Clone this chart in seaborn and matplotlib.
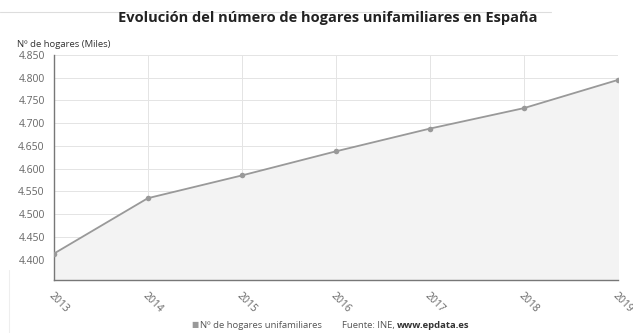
import matplotlib.pyplot as plt
import seaborn as sns
import pandas as pd
from matplotlib.ticker import FuncFormatter

years = [2013, 2014, 2015, 2016, 2017, 2018, 2019]
hogares = [4.413, 4.535, 4.585, 4.638, 4.688, 4.733, 4.795]
yticks = [4.40, 4.45, 4.50, 4.55, 4.60, 4.65, 4.70, 4.75, 4.80, 4.85]

df = pd.DataFrame({'year': years, 'hogares': hogares})

sns.set_style('white')
plt.rcParams['font.family'] = ['Open Sans', 'DejaVu Sans']

fig = plt.figure(figsize=(6.33, 3.33), dpi=100)
ax = fig.add_axes([0.085, 0.159, 0.891, 0.676])

ax.fill_between(df['year'], df['hogares'], 4.355, color='#f3f3f3', zorder=1)
sns.lineplot(data=df, x='year', y='hogares', ax=ax, color='#999999', lw=1.3,
             marker='o', markersize=4, markeredgewidth=0, zorder=3)

ax.set_xlim(2013, 2019)
ax.set_ylim(4.355, 4.85)
ax.set_xticks(years)
ax.set_yticks(yticks)
ax.yaxis.set_major_formatter(FuncFormatter(lambda v, p: f'{v:.3f}'))
ax.set_xticklabels([str(y) for y in years], rotation=-45, ha='left', va='top',
                   rotation_mode='anchor', fontsize=7.5, color='#666666')
ax.tick_params(axis='y', labelsize=7.5, colors='#666666', length=3, width=0.8)
ax.tick_params(axis='x', length=4, width=0.8, colors='#666666')
ax.grid(True, color='#e4e4e4', lw=0.7, zorder=0)
ax.set_axisbelow(True)
ax.set_xlabel('')
ax.set_ylabel('')
for s in ['top', 'right']:
    ax.spines[s].set_visible(False)
for s in ['left', 'bottom']:
    ax.spines[s].set_color('#777777')
    ax.spines[s].set_linewidth(1.0)

fig.text(0.517, 0.945, 'Evolución del número de hogares unifamiliares en España',
         ha='center', va='center', fontsize=10.5, fontweight='bold', color='#222222')
fig.text(0.027, 0.865, 'Nº de hogares (Miles)', ha='left', va='center',
         fontsize=6.8, color='#333333')

# footer legend
fy = 0.024
fig.text(0.302, fy, '■', ha='left', va='center', fontsize=5.5, color='#999999')
fig.text(0.316, fy, 'Nº de hogares unifamiliares', ha='left', va='center',
         fontsize=6.8, color='#555555')
src = fig.text(0.540, fy, 'Fuente: INE, ', ha='left', va='center', fontsize=6.8,
               color='#555555')
fig.canvas.draw()
bb = src.get_window_extent().transformed(fig.transFigure.inverted())
fig.text(bb.x1, fy, 'www.epdata.es', ha='left', va='center', fontsize=6.8,
         fontweight='bold', color='#333333')

fig.add_artist(plt.Line2D([0.0, 0.87], [0.965, 0.965], color='#dddddd', lw=0.8))
fig.add_artist(plt.Line2D([0.015, 0.015], [0.0, 0.19], color='#eeeeee', lw=0.8))

plt.savefig('out.png', dpi=100)
